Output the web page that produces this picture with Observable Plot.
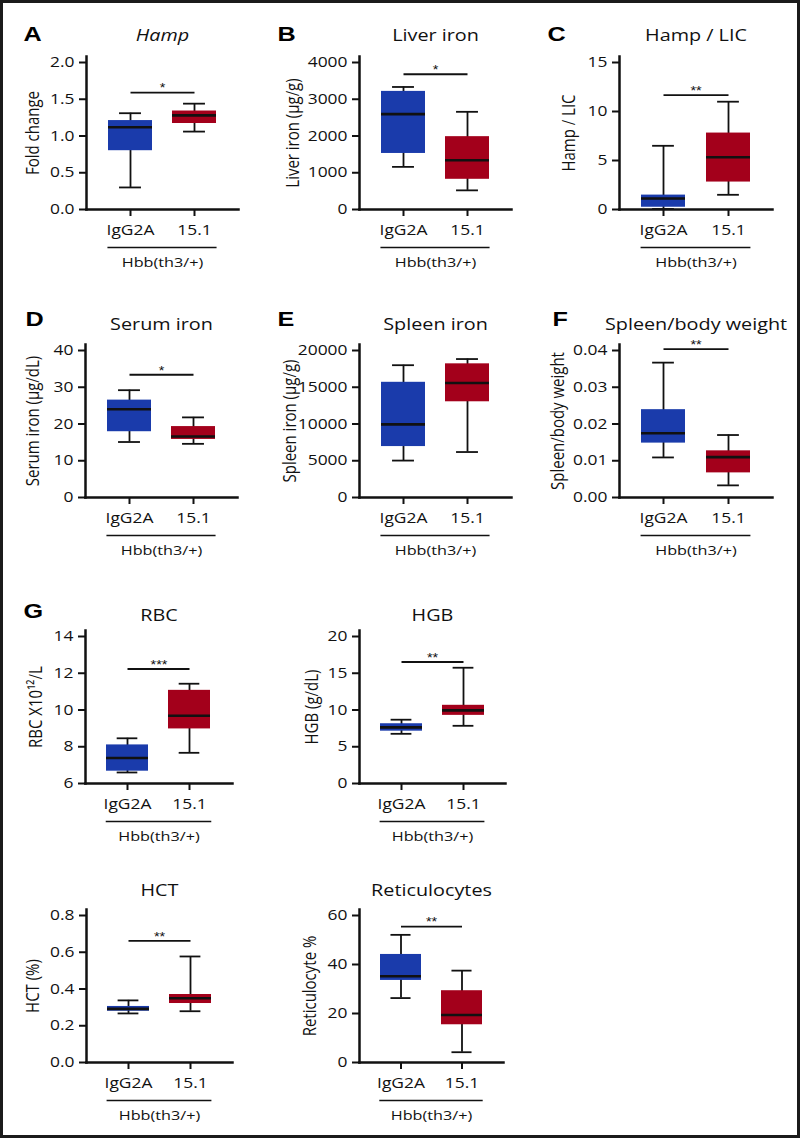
<!DOCTYPE html>
<html>
<head>
<meta charset="utf-8">
<script src="https://cdn.jsdelivr.net/npm/d3@7"></script>
<script src="https://cdn.jsdelivr.net/npm/@observablehq/plot@0.6"></script>
<style>
  html, body { margin: 0; padding: 0; background: #fff; }
  #fig { position: relative; width: 802px; height: 1139px; overflow: hidden; background: #fff; }
  #frame { position: absolute; left: 0; top: 0; width: 800px; height: 1138px; box-sizing: border-box; border: 3px solid #1b1b1b; }
</style>
</head>
<body>
<div id="fig"><div id="frame"></div></div>
<script>
// ---------------- data ----------------
const groups = ["IgG2A", "15.1"];
const groupLabel = "Hbb(th3/+)";
const letters = ["A", "B", "C", "D", "E", "F", "G", "", "", ""];
const titles = ["Hamp", "Liver iron", "Hamp / LIC", "Serum iron", "Spleen iron", "Spleen/body weight", "RBC", "HGB", "HCT", "Reticulocytes"];
const yLabels = ["Fold change", "Liver iron (µg/g)", "Hamp / LIC", "Serum iron (µg/dL)", "Spleen iron (µg/g)", "Spleen/body weight", "RBC X10¹²/L", "HGB (g/dL)", "HCT (%)", "Reticulocyte %"];
const yTicks = [
  [0, 0.5, 1.0, 1.5, 2.0],
  [0, 1000, 2000, 3000, 4000],
  [0, 5, 10, 15],
  [0, 10, 20, 30, 40],
  [0, 5000, 10000, 15000, 20000],
  [0, 0.01, 0.02, 0.03, 0.04],
  [6, 8, 10, 12, 14],
  [0, 5, 10, 15, 20],
  [0, 0.2, 0.4, 0.6, 0.8],
  [0, 20, 40, 60]
];
const tickFormats = [".1f", "d", "d", "d", "d", ".2f", "d", "d", ".1f", "d"];
// box statistics per panel: [IgG2A, 15.1]
const whiskerLow  = [[0.30, 1.06], [1160, 521], [0.05, 1.5], [15.1, 14.6], [5023, 6186], [0.0109, 0.0033], [6.60, 7.67], [6.76, 7.85], [0.267, 0.279], [26.3, 4.2]];
const quartile1   = [[0.80, 1.17], [1525, 822], [0.23, 2.8], [17.9, 15.8], [6930, 13023], [0.0148, 0.0067], [6.67, 8.97], [7.12, 9.27], [0.279, 0.321], [33.5, 15.4]];
const medians     = [[1.12, 1.28], [2594, 1342], [1.13, 5.33], [24.0, 16.6], [9953, 15581], [0.0175, 0.0110], [7.39, 9.69], [7.63, 9.95], [0.292, 0.350], [35.2, 19.4]];
const quartile3   = [[1.21, 1.34], [3214, 1982], [1.47, 7.8], [26.5, 19.3], [15674, 18186], [0.0239, 0.0127], [8.10, 11.07], [8.13, 10.64], [0.305, 0.370], [44.1, 29.3]];
const whiskerHigh = [[1.31, 1.44], [3334, 2658], [6.5, 11.0], [29.2, 21.8], [18000, 18837], [0.0367, 0.0170], [8.46, 11.43], [8.68, 15.75], [0.338, 0.577], [52.1, 37.5]];
const sigLevel = [1.59, 3680, 11.67, 33.4, null, 0.0404, 12.23, 16.53, 0.662, 55.5];
const sigStars = ["*", "*", "**", "*", "", "**", "***", "**", "**", "**"];

// ---------------- layout & style ----------------
const boxColors = ["#1a3bab", "#a3001b"];
const INK = "#111111";
const FONT = '"Open Sans", Lato, sans-serif';
const STRETCH = 1.2;
const panels = [
  {ax: 86,  bottom: 209,  w: 152, ylabOff: 53, letterDx: -63, letterBase: 40,  titleBase: 40},
  {ax: 359, bottom: 209,  w: 152, ylabOff: 66, letterDx: -82, letterBase: 40,  titleBase: 40},
  {ax: 619, bottom: 209,  w: 153, ylabOff: 50, letterDx: -72, letterBase: 40,  titleBase: 40},
  {ax: 85,  bottom: 497,  w: 152, ylabOff: 52, letterDx: -60, letterBase: 325, titleBase: 329},
  {ax: 359, bottom: 497,  w: 152, ylabOff: 69, letterDx: -82, letterBase: 325, titleBase: 329},
  {ax: 619, bottom: 497,  w: 153, ylabOff: 61, letterDx: -67, letterBase: 325, titleBase: 329},
  {ax: 85,  bottom: 783,  w: 147, ylabOff: 49, letterDx: -62, letterBase: 617, titleBase: 620},
  {ax: 359, bottom: 783,  w: 146, ylabOff: 47, letterDx: 0,   letterBase: 617, titleBase: 620},
  {ax: 86,  bottom: 1062, w: 146, ylabOff: 53, letterDx: 0,   letterBase: 895, titleBase: 895},
  {ax: 359, bottom: 1062, w: 144, ylabOff: 49, letterDx: 0,   letterBase: 895, titleBase: 895}
];

function stretchText(svg, k) {
  svg.querySelectorAll("text").forEach(t => {
    let tr = t.getAttribute("transform") || "";
    const xa = t.getAttribute("x");
    if (xa != null && xa !== "" && !isNaN(+xa) && +xa !== 0) {
      tr += ` translate(${+xa},0)`;
      t.setAttribute("x", 0);
    }
    if (/rotate/.test(tr)) tr += ` scale(1,${k})`;
    else tr += ` scale(${k},1)`;
    t.setAttribute("transform", tr.trim());
  });
}

const fig = document.getElementById("fig");
const H = 153, EXT = 6;
const ml = 100, mr = 20, mt = 50, mb = 70;
const pIn = 0.32, pOut = 0.33;

panels.forEach((p, i) => {
  const ticks = yTicks[i];
  const lo = ticks[0], tmax = ticks[ticks.length - 1];
  const hi = tmax + (tmax - lo) * EXT / (H - EXT);
  const step = p.w / (2 - pIn + 2 * pOut);
  const bw = step * (1 - pIn);
  const rows = groups.map((g, j) => ({
    group: g,
    lo: whiskerLow[i][j], q1: quartile1[i][j], med: medians[i][j],
    q3: quartile3[i][j], hi: whiskerHigh[i][j], color: boxColors[j]
  }));
  const frameTop = p.bottom - H;
  const marks = [
    Plot.ruleX(rows, {x: "group", y1: "lo", y2: "hi", stroke: INK, strokeWidth: 1.8}),
    Plot.barY(rows, {x: "group", y1: "q1", y2: "q3", fill: "color"}),
    Plot.tickY(rows, {x: "group", y: "med", stroke: INK, strokeWidth: 2.6}),
    Plot.tickY(rows, {x: "group", y: "lo", stroke: INK, strokeWidth: 1.8, insetLeft: bw / 4, insetRight: bw / 4}),
    Plot.tickY(rows, {x: "group", y: "hi", stroke: INK, strokeWidth: 1.8, insetLeft: bw / 4, insetRight: bw / 4}),
    Plot.frame({anchor: "left", stroke: INK, strokeWidth: 2.5}),
    Plot.frame({anchor: "bottom", stroke: INK, strokeWidth: 2.5}),
    Plot.axisY(ticks, {tickSize: 7, tickPadding: 5, strokeWidth: 2, tickFormat: d3.format(tickFormats[i]), label: null, fontSize: 14.5}),
    Plot.axisX(groups, {tickSize: 7, tickPadding: 8, strokeWidth: 2, label: null, fontSize: 14.5}),
    Plot.ruleY([lo], {dy: 38, insetLeft: pOut * step, insetRight: pOut * step, stroke: INK, strokeWidth: 1.5}),
    Plot.text([groupLabel], {frameAnchor: "bottom", lineAnchor: "middle", dy: 57 - 0.32 * 13.5, fontSize: 13.5, fill: INK}),
    Plot.text([yLabels[i]], {frameAnchor: "left", rotate: -90, textAnchor: "middle", dx: -p.ylabOff, lineAnchor: "middle", fontSize: 15, fill: INK}),
    Plot.text([titles[i]], {frameAnchor: "top", textAnchor: "middle", lineAnchor: "middle", dy: p.titleBase - frameTop - 0.32 * 16.5, fontSize: 16.5, fill: INK, fontStyle: i === 0 ? "italic" : "normal"})
  ];
  if (letters[i]) {
    marks.push(Plot.text([letters[i]], {frameAnchor: "top-left", textAnchor: "start", lineAnchor: "middle", dx: p.letterDx, dy: p.letterBase - frameTop - 0.32 * 21, fontSize: 21, fontWeight: "bold", fontFamily: '"Liberation Sans", Arial, sans-serif', fill: "#000"}));
  }
  if (sigLevel[i] != null) {
    marks.push(Plot.link([sigLevel[i]], {x1: () => groups[0], x2: () => groups[1], y1: d => d, y2: d => d, stroke: INK, strokeWidth: 1.8}));
    marks.push(Plot.text([sigLevel[i]], {y: d => d, text: () => sigStars[i], lineAnchor: "middle", dy: -4, fontSize: 12, fill: INK, fontFamily: '"Liberation Sans", Arial, sans-serif'}));
  }
  const svg = Plot.plot({
    width: ml + p.w + mr,
    height: mt + H + mb,
    marginLeft: ml, marginRight: mr, marginTop: mt, marginBottom: mb,
    style: {fontFamily: FONT, fontSize: "14px", color: INK, background: "none", overflow: "visible"},
    x: {domain: groups, paddingInner: pIn, paddingOuter: pOut},
    y: {domain: [lo, hi]},
    color: {type: "identity"},
    marks
  });
  stretchText(svg, STRETCH);
  svg.style.position = "absolute";
  svg.style.left = (p.ax - ml) + "px";
  svg.style.top = (frameTop - mt) + "px";
  fig.appendChild(svg);
});
</script>
</body>
</html>
